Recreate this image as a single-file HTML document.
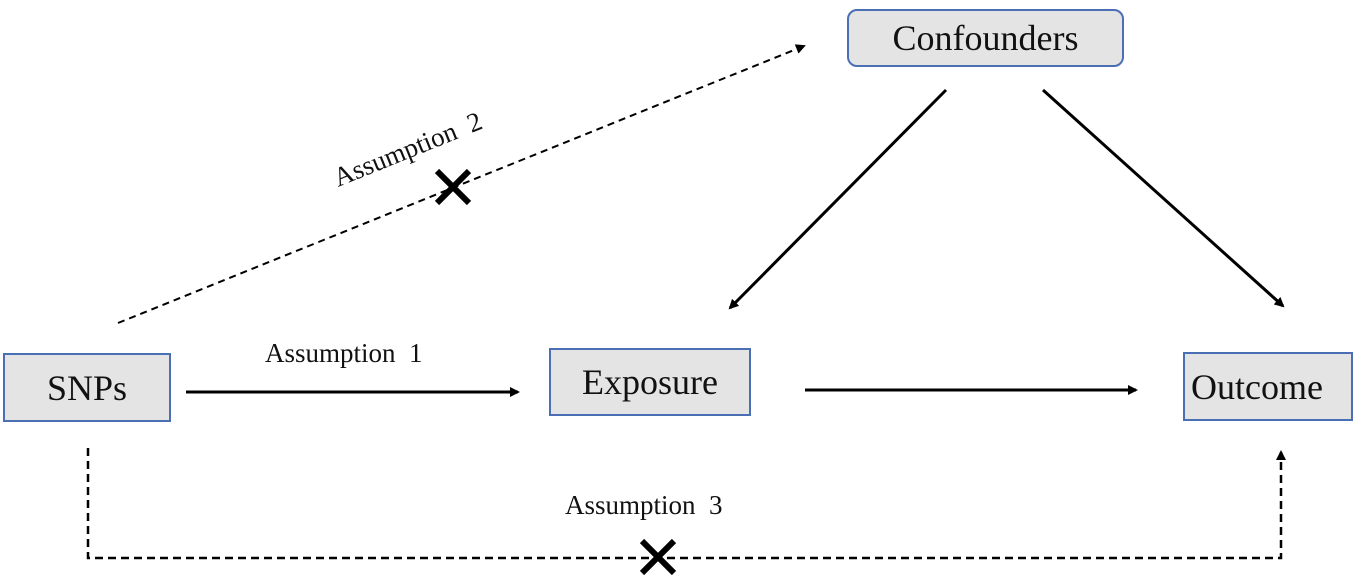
<!DOCTYPE html>
<html><head><style>
body{margin:0;width:1356px;height:581px;background:#fff;overflow:hidden;position:relative;font-family:"Liberation Serif",serif}
.b{position:absolute;background:#e4e4e4;border:2px solid #4a6fb5;box-sizing:border-box;display:flex;align-items:center;justify-content:center;color:#111}
</style></head><body>
<div class="b" style="left:3px;top:353px;width:168px;height:69px;font-size:36px">SNPs</div>
<div class="b" style="left:549px;top:348px;width:202px;height:68px;font-size:36px">Exposure</div>
<div class="b" style="left:1183px;top:352px;width:170px;height:69px;font-size:36px;justify-content:flex-start;padding-left:6px">Outcome</div>
<div class="b" style="left:847px;top:9px;width:277px;height:58px;font-size:36px;border-radius:10px">Confounders</div>
<svg width="1356" height="581" style="position:absolute;left:0;top:0">
<defs><marker id="a" markerWidth="10" markerHeight="10" refX="8" refY="5" orient="auto" markerUnits="userSpaceOnUse"><path d="M0,0 L10,5 L0,10 z" fill="#000"/></marker></defs>
<g stroke="#000" stroke-width="3" fill="none">
<line x1="186" y1="392" x2="518" y2="392" marker-end="url(#a)"/>
<line x1="805" y1="390" x2="1136" y2="390" marker-end="url(#a)"/>
<line x1="946" y1="90" x2="730" y2="308" marker-end="url(#a)"/>
<line x1="1043" y1="90" x2="1283" y2="306" marker-end="url(#a)"/>
<line x1="118" y1="323" x2="804" y2="46" stroke-width="2" stroke-dasharray="7,5" marker-end="url(#a)"/>
<polyline points="88,448 88,558 1281,558 1281,452" stroke-width="2.5" stroke-dasharray="8,5" marker-end="url(#a)"/>
<g stroke-width="6"><line x1="437" y1="171" x2="469" y2="203"/><line x1="469" y1="171" x2="437" y2="203"/>
<line x1="642" y1="541" x2="674" y2="573"/><line x1="674" y1="541" x2="642" y2="573"/></g>
</g>
<g font-family="Liberation Serif,serif" font-size="27" fill="#111">
<text x="265" y="362">Assumption&#160; 1</text>
<text x="565" y="514">Assumption&#160; 3</text>
<text x="338" y="187" transform="rotate(-22 338 187)">Assumption&#160; 2</text>
</g>
</svg>
</body></html>
